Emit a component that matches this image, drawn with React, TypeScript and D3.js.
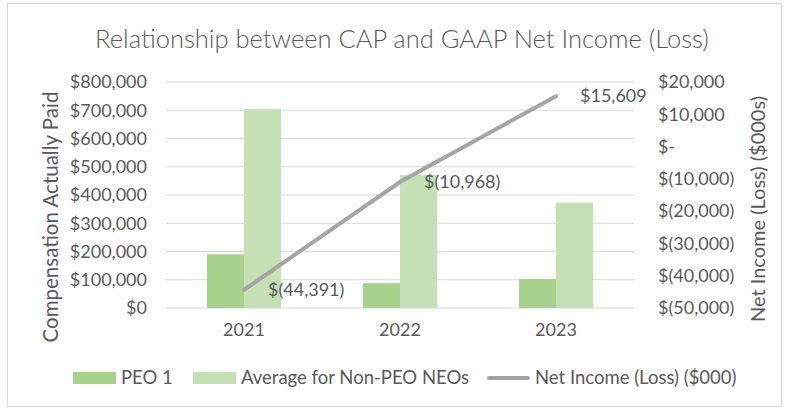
import React from "react";
import * as d3 from "d3";

const years = ["2021", "2022", "2023"];
const seriesNames = ["PEO 1", "Average for Non-PEO NEOs"];
const peo1 = [190000, 88000, 103000];
const nonPeo = [704000, 471000, 373000];
const netIncome = [-44391, -10968, 15609];
const netIncomeLabels = ["$(44,391)", "$(10,968)", "$15,609"];
const leftTicks = [0, 100000, 200000, 300000, 400000, 500000, 600000, 700000, 800000];
const rightTicks = [-50000, -40000, -30000, -20000, -10000, 0, 10000, 20000];
const lineName = "Net Income (Loss) ($000)";

const W = 786;
const H = 410;
const FONT = "Lato, 'Open Sans', sans-serif";
const TXT = "#595959";
const COLORS = ["#A9D18E", "#C5E0B4"];
const LINE_COLOR = "#A5A5A5";

const left = 166, right = 634, top = 82, bottom = 308;

function fmtLeft(v: number) {
  return "$" + d3.format(",")(v);
}
function fmtRight(v: number) {
  if (v === 0) return "$-";
  if (v < 0) return "$(" + d3.format(",")(-v) + ")";
  return "$" + d3.format(",")(v);
}

export default function App() {
  const x0 = d3.scaleBand<string>().domain(years).range([left, right]).paddingInner(82 / 156).paddingOuter(41 / 156);
  const x1 = d3.scaleBand<number>().domain([0, 1]).range([0, x0.bandwidth()]);
  const yL = d3.scaleLinear().domain([0, 800000]).range([bottom, top]);
  const yR = d3.scaleLinear().domain([-50000, 20000]).range([bottom, top]);
  const cx = (y: string) => (x0(y) as number) + x0.bandwidth() / 2;
  const line = d3.line<number>().x((_, i) => cx(years[i])).y((d) => yR(d));
  const barSeries = [peo1, nonPeo];

  return (
    <svg width={W} height={H} style={{ position: "absolute", left: 0, top: 0 }} fontFamily={FONT}>
      <rect x={0} y={0} width={W} height={H} fill="#fff" />
      <rect x={7.5} y={3.5} width={774} height={403} fill="#fff" stroke="#D9D9D9" strokeWidth={1} />
      <text x={402} y={48} textAnchor="middle" fontSize={25.5} fontWeight={300} fill={TXT}>
        Relationship between CAP and GAAP Net Income (Loss)
      </text>
      {leftTicks.map((t) => (
        <line key={"g" + t} x1={left} x2={right} y1={yL(t)} y2={yL(t)} stroke="#D9D9D9" strokeWidth={1} />
      ))}
      {leftTicks.map((t) => (
        <text key={"l" + t} x={147} y={yL(t)} dy="0.35em" textAnchor="end" fontSize={18} fill={TXT}>
          {fmtLeft(t)}
        </text>
      ))}
      {rightTicks.map((t) => (
        <text key={"r" + t} x={658} y={yR(t)} dy="0.35em" textAnchor="start" fontSize={18} fill={TXT}>
          {fmtRight(t)}
        </text>
      ))}
      {barSeries.map((s, si) =>
        s.map((v, i) => (
          <rect
            key={si + "-" + i}
            x={(x0(years[i]) as number) + (x1(si) as number)}
            y={yL(v)}
            width={x1.bandwidth()}
            height={yL(0) - yL(v)}
            fill={COLORS[si]}
          />
        ))
      )}
      <path d={line(netIncome) || ""} fill="none" stroke={LINE_COLOR} strokeWidth={4} strokeLinecap="round" />
      {netIncome.map((v, i) => (
        <text key={"d" + i} x={cx(years[i]) + 24} y={yR(v)} dy="0.35em" fontSize={18} fill={TXT}>
          {netIncomeLabels[i]}
        </text>
      ))}
      {years.map((y) => (
        <text key={"x" + y} x={cx(y)} y={336} textAnchor="middle" fontSize={18} fill={TXT}>
          {y}
        </text>
      ))}
      <text transform={`translate(51,217) rotate(-90)`} textAnchor="middle" dy="0.35em" fontSize={20.5} fill={TXT}>
        Compensation Actually Paid
      </text>
      <text transform={`translate(758,209) rotate(-90)`} textAnchor="middle" dy="0.35em" fontSize={20} fill={TXT}>
        Net Income (Loss) ($000s)
      </text>
      <g fontSize={18.5} fill={TXT}>
        <rect x={73} y={372} width={43} height={12} fill={COLORS[0]} />
        <text x={121} y={378} dy="0.35em">{seriesNames[0]}</text>
        <rect x={193} y={372} width={43} height={12} fill={COLORS[1]} />
        <text x={241} y={378} dy="0.35em">{seriesNames[1]}</text>
        <line x1={489} x2={528} y1={378} y2={378} stroke={LINE_COLOR} strokeWidth={4} strokeLinecap="round" />
        <text x={535} y={378} dy="0.35em">{lineName}</text>
      </g>
    </svg>
  );
}
